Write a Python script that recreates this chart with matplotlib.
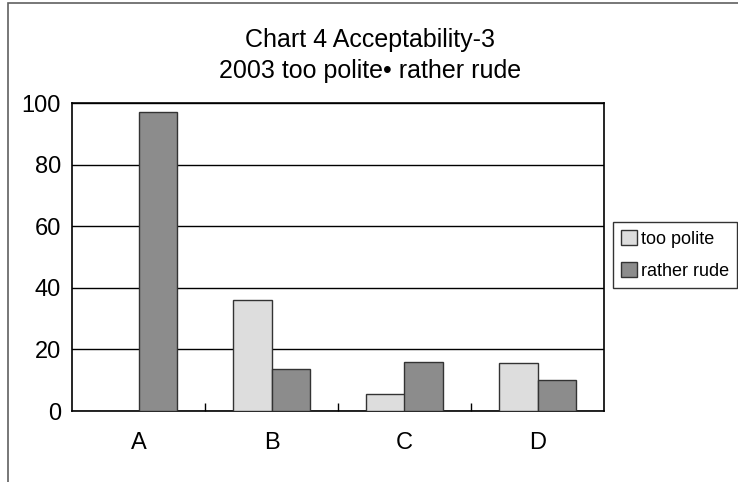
import numpy as np
import matplotlib.pyplot as plt
from matplotlib.patches import Rectangle

categories = ['A', 'B', 'C', 'D']
too_polite = [0, 36, 5.6, 15.6]
rather_rude = [97, 13.5, 15.8, 10]
series_names = ['too polite', 'rather rude']
title_lines = ['Chart 4 Acceptability-3', '2003 too polite\u2022 rather rude']

plt.rcParams['font.family'] = ['Liberation Sans', 'DejaVu Sans']

fig = plt.figure(figsize=(7.38, 4.82), dpi=100)
ax = fig.add_axes([72/738, 71/482, 532/738, 308/482])

# outer chart frame
fig.patches.append(Rectangle((8/738, -0.1), 1.0, 1.1 - 3/482, transform=fig.transFigure,
                             fill=False, edgecolor='#606060', linewidth=1.2))

x = np.arange(len(categories))
w = 0.286
ax.bar(x - w/2, too_polite, w, color='#dddddd', edgecolor='#333333', linewidth=1, label=series_names[0], zorder=3)
ax.bar(x + w/2, rather_rude, w, color='#8c8c8c', edgecolor='#333333', linewidth=1, label=series_names[1], zorder=3)

ax.set_xlim(-0.5, len(categories) - 0.5)
ax.set_ylim(0, 100)
ax.set_yticks(np.arange(0, 101, 20))
ax.tick_params(axis='y', length=0, labelsize=17, pad=8)
ax.yaxis.grid(True, color='black', linewidth=1)
ax.set_axisbelow(True)

ax.set_xticks(x)
ax.set_xticklabels(categories, fontsize=17)
ax.tick_params(axis='x', length=0, pad=15)
ax.set_xticks(np.arange(0.5, len(categories) - 0.5), minor=True)
ax.tick_params(axis='x', which='minor', direction='in', length=6, width=1)

for s in ax.spines.values():
    s.set_color('black')
    s.set_linewidth(1.2)

for i, line in enumerate(title_lines):
    fig.text(0.501, 1 - (40 + 31*i)/482, line, ha='center', va='center', fontsize=18)

leg = ax.legend(loc='center left', bbox_to_anchor=(1.017, 0.506), frameon=True, fancybox=False,
                edgecolor='black', handlelength=0.85, handleheight=0.85, handletextpad=0.25,
                borderpad=0.45, labelspacing=0.8, borderaxespad=0, prop={'size': 13})
leg.get_frame().set_linewidth(1)

fig.savefig('out.png', dpi=100)
